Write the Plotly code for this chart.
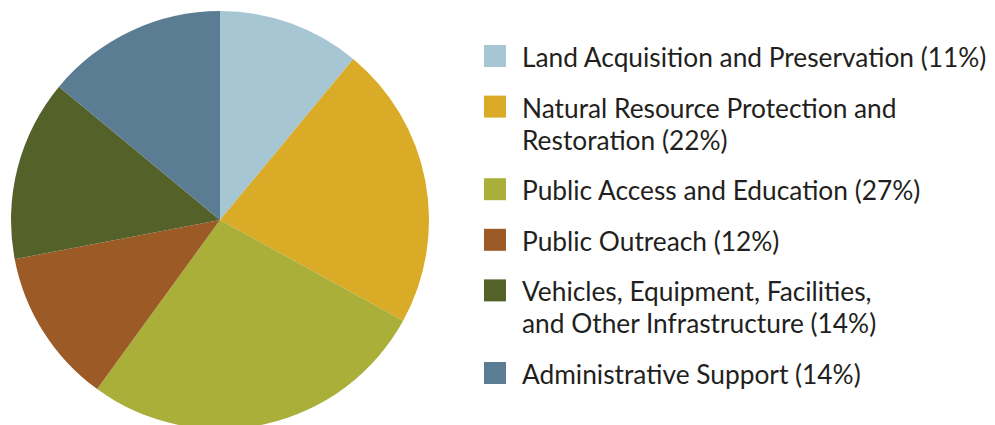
import plotly.graph_objects as go

labels = [
    "Land Acquisition and Preservation",
    "Natural Resource Protection and Restoration",
    "Public Access and Education",
    "Public Outreach",
    "Vehicles, Equipment, Facilities, and Other Infrastructure",
    "Administrative Support",
]
values = [11, 22, 27, 12, 14, 14]
legend_lines = [
    ["Land Acquisition and Preservation (11%)"],
    ["Natural Resource Protection and", "Restoration (22%)"],
    ["Public Access and Education (27%)"],
    ["Public Outreach (12%)"],
    ["Vehicles, Equipment, Facilities,", "and Other Infrastructure (14%)"],
    ["Administrative Support (14%)"],
]
colors = ["#A5C6D2", "#DAAB27", "#A9AF38", "#9C5B26", "#54622A", "#5B7D93"]

W, H = 995, 425
OFF = 8  # page body margin offset
fig = go.Figure(go.Pie(
    labels=labels, values=values, sort=False, direction="clockwise", rotation=0,
    marker=dict(colors=colors, line=dict(width=0)),
    textinfo="none", hoverinfo="label+percent", showlegend=False,
    domain=dict(x=[(11 - OFF) / W, (429 - OFF) / W], y=[1 - (429 - OFF) / H, 1 - (11 - OFF) / H]),
))

shapes, annotations = [], []
sq = 22
line_h = 32
gap = 50.6
y = 56  # center of first line (screen px from top)
for i, lines in enumerate(legend_lines):
    yc = y - OFF
    shapes.append(dict(type="rect", xref="paper", yref="paper",
                       x0=(484 - OFF) / W, x1=(484 - OFF + sq) / W,
                       y0=1 - (yc - sq / 2) / H, y1=1 - (yc + sq / 2) / H,
                       fillcolor=colors[i], line=dict(width=0)))
    for j, t in enumerate(lines):
        annotations.append(dict(xref="paper", yref="paper", x=(520 - OFF) / W,
                                y=1 - (yc + 1 + j * line_h) / H,
                                xanchor="left", yanchor="middle", showarrow=False, text=t,
                                font=dict(family="Lato", size=26.3, color="#231F20")))
    y += gap + (len(lines) - 1) * line_h

fig.update_layout(width=W, height=H, margin=dict(l=0, r=0, t=0, b=0),
                  paper_bgcolor="white", plot_bgcolor="white",
                  shapes=shapes, annotations=annotations)
fig.write_html("out.html")
